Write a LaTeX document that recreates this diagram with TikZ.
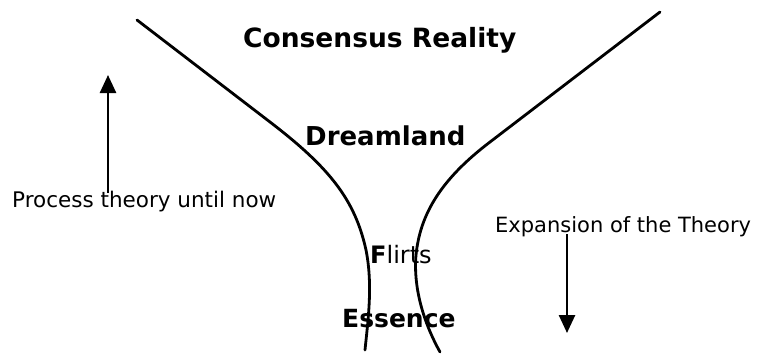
\documentclass[tikz,border=0pt]{standalone}
\usepackage{fontspec}
\setmainfont{DejaVu Sans}
\usetikzlibrary{arrows.meta}
\begin{document}
\begin{tikzpicture}[x=1bp,y=-1bp,
  boldlabel/.style={inner sep=0pt,anchor=base west,font=\fontsize{25bp}{30bp}\selectfont\bfseries},
  plainlabel/.style={inner sep=0pt,anchor=base west,font=\fontsize{21bp}{25bp}\selectfont},
  funnel/.style={line width=2.8bp,line cap=round,line join=round},
  flow/.style={line width=2.6bp,-{Triangle[length=18bp,width=16bp]}}]
\useasboundingbox[fill=white] (0,0) rectangle (757,353);
\node[boldlabel,font=\fontsize{26.5bp}{32bp}\selectfont\bfseries] (cons) at (243,47) {Consensus Reality};
\node[boldlabel,font=\fontsize{26bp}{31bp}\selectfont\bfseries] (dream) at (305,145) {Dreamland};
\node[plainlabel,font=\fontsize{24bp}{28bp}\selectfont] (flirts) at (370,263) {\textbf{F}lirts};
\node[boldlabel] (ess) at (342,327) {Essence};
\node[plainlabel,font=\fontsize{21.5bp}{26bp}\selectfont] (proc) at (12,207) {Process theory until now};
\node[plainlabel] (exp) at (495,232) {Expansion of the Theory};
\coordinate (ltail) at (108,193);
\coordinate (lhead) at (108,75);
\coordinate (rtail) at (567,234);
\coordinate (rhead) at (567,333);
\draw[flow] (ltail) -- (lhead);
\draw[flow] (rtail) -- (rhead);
\draw[funnel] (137,20) -- (270,122) .. controls (330,168) and (355,200) .. (366,250) .. controls (373,285) and (368,320) .. (365,350);
\draw[funnel] (660,12) -- (490,142) .. controls (440,180) and (420,215) .. (416,255) .. controls (413,290) and (425,325) .. (440,352);
\end{tikzpicture}
\end{document}
